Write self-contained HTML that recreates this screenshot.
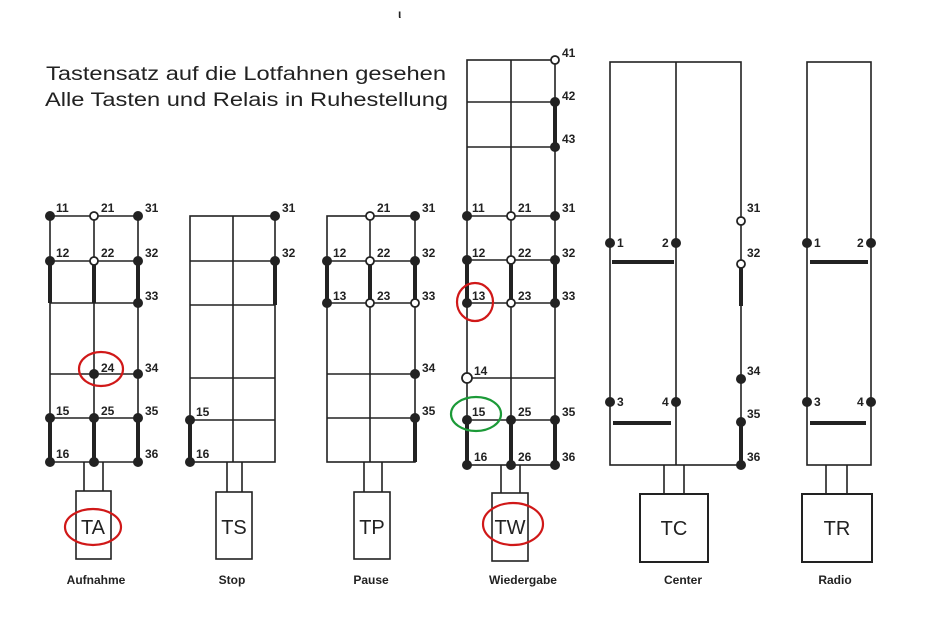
<!DOCTYPE html>
<html><head><meta charset="utf-8"><style>
html,body{margin:0;padding:0;background:#fff;}
svg{display:block;}
text{font-family:"Liberation Sans",sans-serif;font-weight:bold;fill:#222;}
.n{font-size:12px;}
.l{font-size:12px;}
.b{font-size:19px;font-weight:normal;}
.bx{font-size:20px;font-weight:normal;}
</style></head><body>
<svg width="939" height="629" viewBox="0 0 939 629" xmlns="http://www.w3.org/2000/svg">
<g stroke="#222" fill="none" stroke-width="1.6">
<line x1="50" y1="216" x2="50" y2="462"/><line x1="94" y1="216" x2="94" y2="462"/><line x1="138" y1="216" x2="138" y2="462"/>
<line x1="50" y1="216" x2="138" y2="216"/><line x1="50" y1="261" x2="138" y2="261"/><line x1="50" y1="303" x2="138" y2="303"/>
<line x1="50" y1="374" x2="138" y2="374"/><line x1="50" y1="418" x2="138" y2="418"/><line x1="50" y1="462" x2="138" y2="462"/>
<line x1="84" y1="462" x2="84" y2="491"/><line x1="103" y1="462" x2="103" y2="491"/>
<rect x="76" y="491" width="35" height="68"/>
<rect x="190" y="216" width="85" height="246"/><line x1="233" y1="216" x2="233" y2="462"/>
<line x1="190" y1="261" x2="275" y2="261"/><line x1="190" y1="305" x2="275" y2="305"/><line x1="190" y1="378" x2="275" y2="378"/><line x1="190" y1="420" x2="275" y2="420"/>
<line x1="227" y1="462" x2="227" y2="492"/><line x1="242" y1="462" x2="242" y2="492"/>
<rect x="216" y="492" width="36" height="67"/>
<rect x="327" y="216" width="88" height="246"/><line x1="370" y1="216" x2="370" y2="462"/>
<line x1="327" y1="261" x2="415" y2="261"/><line x1="327" y1="303" x2="415" y2="303"/><line x1="327" y1="374" x2="415" y2="374"/><line x1="327" y1="418" x2="415" y2="418"/>
<line x1="364" y1="462" x2="364" y2="492"/><line x1="382" y1="462" x2="382" y2="492"/>
<rect x="354" y="492" width="36" height="67"/>
<rect x="467" y="60" width="88" height="405"/><line x1="511" y1="60" x2="511" y2="465"/>
<line x1="467" y1="102" x2="555" y2="102"/><line x1="467" y1="147" x2="555" y2="147"/><line x1="467" y1="216" x2="555" y2="216"/>
<line x1="467" y1="260" x2="555" y2="260"/><line x1="467" y1="303" x2="555" y2="303"/><line x1="467" y1="378" x2="555" y2="378"/><line x1="467" y1="420" x2="555" y2="420"/>
<line x1="501" y1="465" x2="501" y2="493"/><line x1="520" y1="465" x2="520" y2="493"/>
<rect x="492" y="493" width="36" height="68"/>
<rect x="610" y="62" width="131" height="403"/><line x1="676" y1="62" x2="676" y2="465"/>
<line x1="664" y1="465" x2="664" y2="494"/><line x1="684" y1="465" x2="684" y2="494"/>
<rect x="640" y="494" width="68" height="68" stroke-width="2"/>
<rect x="807" y="62" width="64" height="403"/>
<line x1="826" y1="465" x2="826" y2="494"/><line x1="847" y1="465" x2="847" y2="494"/>
<rect x="802" y="494" width="70" height="68" stroke-width="2"/>
</g>
<g stroke="#222" stroke-width="4">
<line x1="50" y1="261" x2="50" y2="303"/><line x1="94" y1="261" x2="94" y2="303"/><line x1="138" y1="261" x2="138" y2="303"/>
<line x1="50" y1="418" x2="50" y2="462"/><line x1="94" y1="418" x2="94" y2="462"/><line x1="138" y1="418" x2="138" y2="462"/>
<line x1="275" y1="261" x2="275" y2="305"/><line x1="190" y1="420" x2="190" y2="462"/>
<line x1="327" y1="261" x2="327" y2="303"/><line x1="370" y1="261" x2="370" y2="303"/><line x1="415" y1="261" x2="415" y2="303"/><line x1="415" y1="418" x2="415" y2="462"/>
<line x1="555" y1="102" x2="555" y2="147"/>
<line x1="467" y1="260" x2="467" y2="303"/><line x1="511" y1="260" x2="511" y2="303"/><line x1="555" y1="260" x2="555" y2="303"/>
<line x1="467" y1="420" x2="467" y2="465"/><line x1="511" y1="420" x2="511" y2="465"/><line x1="555" y1="420" x2="555" y2="465"/>
<line x1="741" y1="264" x2="741" y2="306"/><line x1="741" y1="422" x2="741" y2="465"/>
<line x1="612" y1="262" x2="674" y2="262"/><line x1="613" y1="423" x2="671" y2="423"/>
<line x1="810" y1="262" x2="868" y2="262"/><line x1="810" y1="423" x2="866" y2="423"/>
</g>
<g fill="#222">
<circle cx="50" cy="216" r="5"/><circle cx="138" cy="216" r="5"/><circle cx="50" cy="261" r="5"/><circle cx="138" cy="261" r="5"/><circle cx="138" cy="303" r="5"/>
<circle cx="94" cy="374" r="5"/><circle cx="138" cy="374" r="5"/><circle cx="50" cy="418" r="5"/><circle cx="94" cy="418" r="5"/><circle cx="138" cy="418" r="5"/>
<circle cx="50" cy="462" r="5"/><circle cx="94" cy="462" r="5"/><circle cx="138" cy="462" r="5"/>
<circle cx="275" cy="216" r="5"/><circle cx="275" cy="261" r="5"/><circle cx="190" cy="420" r="5"/><circle cx="190" cy="462" r="5"/>
<circle cx="415" cy="216" r="5"/><circle cx="327" cy="261" r="5"/><circle cx="415" cy="261" r="5"/><circle cx="327" cy="303" r="5"/><circle cx="415" cy="374" r="5"/><circle cx="415" cy="418" r="5"/>
<circle cx="555" cy="102" r="5"/><circle cx="555" cy="147" r="5"/><circle cx="467" cy="216" r="5"/><circle cx="555" cy="216" r="5"/>
<circle cx="467" cy="260" r="5"/><circle cx="555" cy="260" r="5"/><circle cx="467" cy="303" r="5"/><circle cx="555" cy="303" r="5"/>
<circle cx="467" cy="420" r="5"/><circle cx="511" cy="420" r="5"/><circle cx="555" cy="420" r="5"/><circle cx="467" cy="465" r="5"/><circle cx="511" cy="465" r="5"/><circle cx="555" cy="465" r="5"/>
<circle cx="610" cy="243" r="5"/><circle cx="676" cy="243" r="5"/><circle cx="610" cy="402" r="5"/><circle cx="676" cy="402" r="5"/>
<circle cx="741" cy="379" r="5"/><circle cx="741" cy="422" r="5"/><circle cx="741" cy="465" r="5"/>
<circle cx="807" cy="243" r="5"/><circle cx="871" cy="243" r="5"/><circle cx="807" cy="402" r="5"/><circle cx="871" cy="402" r="5"/>
</g>
<g fill="#fff" stroke="#222" stroke-width="1.8">
<circle cx="94" cy="216" r="4"/><circle cx="94" cy="261" r="4"/>
<circle cx="370" cy="216" r="4"/><circle cx="370" cy="261" r="4"/><circle cx="370" cy="303" r="4"/><circle cx="415" cy="303" r="4"/>
<circle cx="555" cy="60" r="4"/><circle cx="511" cy="216" r="4"/><circle cx="511" cy="260" r="4"/><circle cx="511" cy="303" r="4"/><circle cx="467" cy="378" r="5"/>
<circle cx="741" cy="221" r="4"/><circle cx="741" cy="264" r="4"/>
</g>
<g class="n">
<text x="56" y="212">11</text><text x="101" y="212">21</text><text x="145" y="212">31</text>
<text x="56" y="257">12</text><text x="101" y="257">22</text><text x="145" y="257">32</text><text x="145" y="300">33</text>
<text x="101" y="372">24</text><text x="145" y="372">34</text>
<text x="56" y="415">15</text><text x="101" y="415">25</text><text x="145" y="415">35</text>
<text x="56" y="458">16</text><text x="145" y="458">36</text>
<text x="282" y="212">31</text><text x="282" y="257">32</text><text x="196" y="416">15</text><text x="196" y="458">16</text>
<text x="377" y="212">21</text><text x="422" y="212">31</text><text x="333" y="257">12</text><text x="377" y="257">22</text><text x="422" y="257">32</text>
<text x="333" y="300">13</text><text x="377" y="300">23</text><text x="422" y="300">33</text><text x="422" y="372">34</text><text x="422" y="415">35</text>
<text x="562" y="57">41</text><text x="562" y="100">42</text><text x="562" y="143">43</text>
<text x="472" y="212">11</text><text x="518" y="212">21</text><text x="562" y="212">31</text>
<text x="472" y="257">12</text><text x="518" y="257">22</text><text x="562" y="257">32</text>
<text x="472" y="300">13</text><text x="518" y="300">23</text><text x="562" y="300">33</text>
<text x="474" y="375">14</text><text x="472" y="416">15</text><text x="518" y="416">25</text><text x="562" y="416">35</text>
<text x="474" y="461">16</text><text x="518" y="461">26</text><text x="562" y="461">36</text>
<text x="617" y="247">1</text><text x="662" y="247">2</text><text x="617" y="406">3</text><text x="662" y="406">4</text>
<text x="747" y="212">31</text><text x="747" y="257">32</text><text x="747" y="375">34</text><text x="747" y="418">35</text><text x="747" y="461">36</text>
<text x="814" y="247">1</text><text x="857" y="247">2</text><text x="814" y="406">3</text><text x="857" y="406">4</text>
</g>
<g text-anchor="middle">
<text class="bx" x="93" y="534">TA</text><text class="bx" x="234" y="534">TS</text><text class="bx" x="372" y="534">TP</text>
<text class="bx" x="510" y="534">TW</text><text class="bx" x="674" y="535">TC</text><text class="bx" x="837" y="535">TR</text>
</g>
<g class="l" text-anchor="middle">
<text x="96" y="584">Aufnahme</text><text x="232" y="584">Stop</text><text x="371" y="584">Pause</text>
<text x="523" y="584">Wiedergabe</text><text x="683" y="584">Center</text><text x="835" y="584">Radio</text>
</g>
<text class="b" x="46" y="80" textLength="400" lengthAdjust="spacingAndGlyphs">Tastensatz auf die Lotfahnen gesehen</text>
<text class="b" x="45" y="106" textLength="403" lengthAdjust="spacingAndGlyphs">Alle Tasten und Relais in Ruhestellung</text>
<text x="398" y="18" style="font-size:12px">ι</text>
<g fill="none" stroke-width="2.2">
<ellipse cx="101" cy="369" rx="22" ry="17" stroke="#d01818"/>
<ellipse cx="93" cy="527" rx="28" ry="18" stroke="#d01818"/>
<ellipse cx="475" cy="302" rx="18" ry="19" stroke="#d01818"/>
<ellipse cx="513" cy="524" rx="30" ry="21" stroke="#d01818"/>
<ellipse cx="476" cy="414" rx="25" ry="17" stroke="#1c9a38"/>
</g>
</svg>
</body></html>
